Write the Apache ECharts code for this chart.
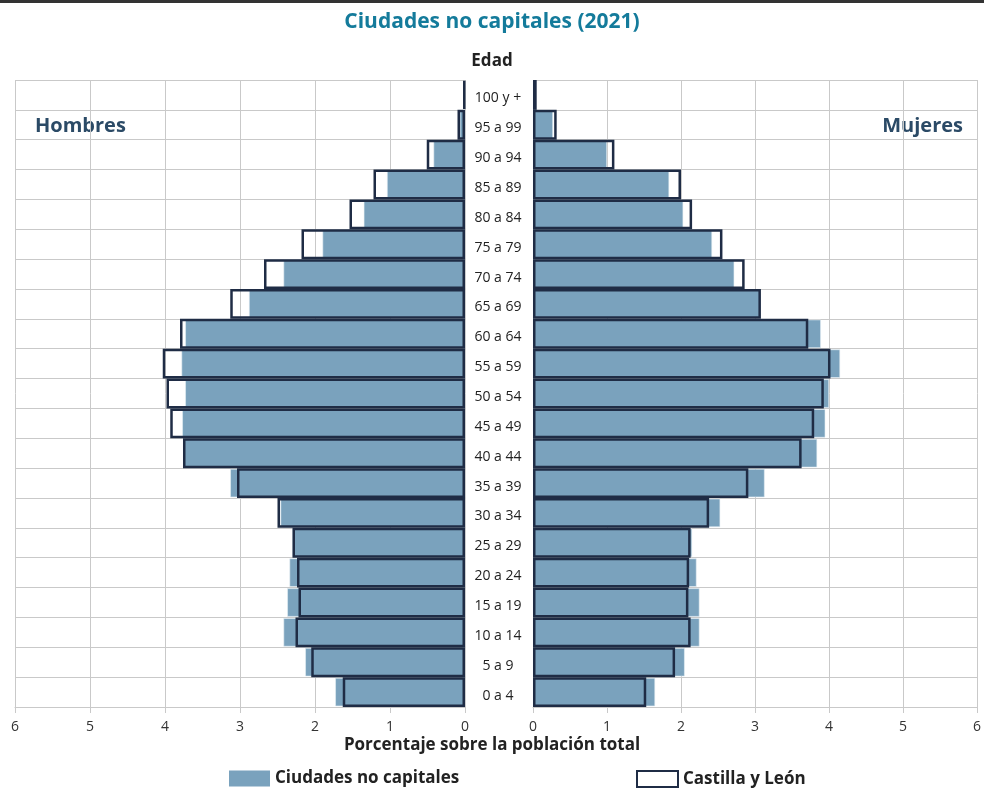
<!DOCTYPE html>
<html>
<head>
<meta charset="utf-8">
<script src="https://cdn.jsdelivr.net/npm/echarts@6/dist/echarts.min.js"></script>
<style>
html,body{margin:0;padding:0;background:#fff;}
#chart{width:984px;height:789px;}
</style>
</head>
<body>
<div id="chart"></div>
<script>
const ageGroups = ['0 a 4','5 a 9','10 a 14','15 a 19','20 a 24','25 a 29','30 a 34','35 a 39','40 a 44','45 a 49','50 a 54','55 a 59','60 a 64','65 a 69','70 a 74','75 a 79','80 a 84','85 a 89','90 a 94','95 a 99','100 y +'];
const menCiudades   = [1.73,2.13,2.42,2.37,2.34,2.30,2.46,3.13,3.76,3.77,3.73,3.78,3.73,2.88,2.42,1.90,1.35,1.04,0.42,0.07,0.01];
const menCyL        = [1.63,2.05,2.26,2.22,2.24,2.30,2.50,3.04,3.76,3.93,3.98,4.03,3.80,3.13,2.68,2.18,1.54,1.22,0.51,0.10,0.02];
const womenCiudades = [1.65,2.05,2.25,2.25,2.21,2.15,2.53,3.13,3.84,3.95,4.00,4.15,3.89,3.07,2.72,2.42,2.03,1.84,1.00,0.27,0.03];
const womenCyL      = [1.53,1.92,2.13,2.10,2.11,2.13,2.38,2.91,3.63,3.80,3.93,4.02,3.72,3.08,2.86,2.56,2.15,2.00,1.10,0.32,0.05];
const xTicks = [0,1,2,3,4,5,6];

const FONT = "'Open Sans', 'Noto Sans', sans-serif";
const BLUE = '#7aa2bd';
const NAVY = '#1f2c45';
const GRIDC = '#c9c9c9';

const chart = echarts.init(document.getElementById('chart'), null, {renderer:'canvas'});

function valueAxis(gridIndex, inverse){
  return {
    type:'value', gridIndex, inverse, min:xTicks[0], max:xTicks[xTicks.length-1], interval:1,
    axisLine:{show:true, lineStyle:{color:GRIDC, width:1}},
    axisTick:{show:true, length:6, lineStyle:{color:GRIDC}},
    axisLabel:{color:'#333', fontFamily:FONT, fontSize:14, margin:13},
    splitLine:{show:true, lineStyle:{color:GRIDC, width:1}}
  };
}

const option = {
  animation:false,
  backgroundColor:'#fff',
  textStyle:{fontFamily:FONT},
  title:{
    text:'Ciudades no capitales (2021)', left:'center', top:7,
    textStyle:{color:'#147b9b', fontFamily:FONT, fontWeight:'bold', fontSize:21}
  },
  legend:[
    {left:229, top:770, padding:0, itemWidth:41, itemHeight:16, itemGap:10,
     textStyle:{fontFamily:FONT, fontWeight:'bold', fontSize:17, color:'#222'},
     data:[{name:'Ciudades no capitales', icon:'rect', itemStyle:{color:BLUE, borderWidth:0}}],
     selectedMode:false},
    {left:636, top:770, padding:0, itemWidth:41, itemHeight:16,
     textStyle:{fontFamily:FONT, fontWeight:'bold', fontSize:17, color:'#222'},
     data:[{name:'Castilla y León', icon:'rect', itemStyle:{color:'#fff', borderColor:NAVY, borderWidth:2}}],
     selectedMode:false}
  ],
  grid:[
    {left:15, top:80, width:450, height:627, containLabel:false},
    {left:533, top:80, width:445, height:627, containLabel:false}
  ],
  xAxis:[ valueAxis(0,true), valueAxis(1,false) ],
  yAxis:[
    {type:'category', gridIndex:0, data:ageGroups, position:'right', boundaryGap:true,
     axisLine:{show:false}, axisTick:{show:false},
     axisLabel:{show:true, align:'center', verticalAlign:'top', lineHeight:7, margin:33, color:'#222', fontFamily:FONT, fontSize:14},
     splitLine:{show:true, lineStyle:{color:GRIDC, width:1}}},
    {type:'category', gridIndex:0, data:ageGroups, show:false},
    {type:'category', gridIndex:1, data:ageGroups, boundaryGap:true,
     axisLine:{show:false}, axisTick:{show:false}, axisLabel:{show:false},
     splitLine:{show:true, lineStyle:{color:GRIDC, width:1}}},
    {type:'category', gridIndex:1, data:ageGroups, show:false}
  ],
  series:[
    {name:'Ciudades no capitales', type:'bar', xAxisIndex:0, yAxisIndex:0, data:menCiudades,
     barCategoryGap:'5%', itemStyle:{color:BLUE, borderColor:'#e6eef4', borderWidth:0.6}, z:2},
    {name:'Castilla y León', type:'bar', xAxisIndex:0, yAxisIndex:1, data:menCyL,
     barCategoryGap:'0%', itemStyle:{color:'rgba(0,0,0,0)', borderColor:NAVY, borderWidth:2.5}, z:3},
    {name:'Ciudades no capitales', type:'bar', xAxisIndex:1, yAxisIndex:2, data:womenCiudades,
     barCategoryGap:'5%', itemStyle:{color:BLUE, borderColor:'#e6eef4', borderWidth:0.6}, z:2},
    {name:'Castilla y León', type:'bar', xAxisIndex:1, yAxisIndex:3, data:womenCyL,
     barCategoryGap:'0%', itemStyle:{color:'rgba(0,0,0,0)', borderColor:NAVY, borderWidth:2.5}, z:3}
  ],
  graphic:[
    {type:'rect', left:0, top:0, shape:{width:984, height:3}, style:{fill:'#333'}},
    {type:'text', left:'center', top:53, style:{text:'Edad', font:"bold 17px 'Open Sans', sans-serif", fill:'#222'}},
    {type:'text', left:35, top:116, style:{text:'Hombres', font:"bold 20px 'Open Sans', sans-serif", fill:'#2b4a66'}},
    {type:'text', right:21, top:116, style:{text:'Mujeres', font:"bold 20px 'Open Sans', sans-serif", fill:'#2b4a66'}},
    {type:'text', left:'center', top:737, style:{text:'Porcentaje sobre la población total', font:"bold 17px 'Open Sans', sans-serif", fill:'#222'}}
  ]
};
chart.setOption(option);
</script>
</body>
</html>
